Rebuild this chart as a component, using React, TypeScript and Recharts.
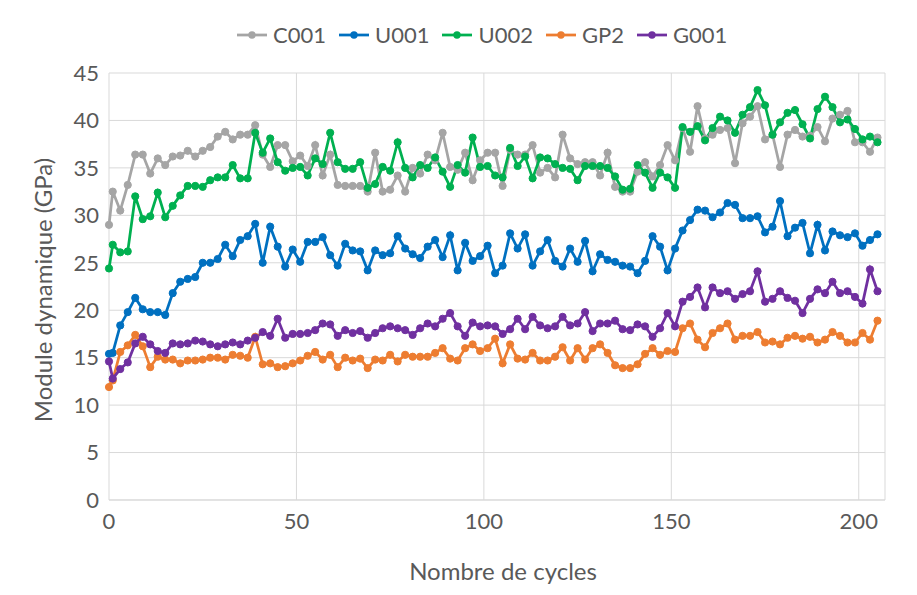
import React from "react";
import {
  CartesianGrid,
  Label,
  Line,
  LineChart,
  XAxis,
  YAxis,
} from "recharts";

// cycle numbers (x values)
const CYCLES = [
  0, 1, 3, 5, 7, 9, 11, 13,
  15, 17, 19, 21, 23, 25, 27, 29,
  31, 33, 35, 37, 39, 41, 43, 45,
  47, 49, 51, 53, 55, 57, 59, 61,
  63, 65, 67, 69, 71, 73, 75, 77,
  79, 81, 83, 85, 87, 89, 91, 93,
  95, 97, 99, 101, 103, 105, 107, 109,
  111, 113, 115, 117, 119, 121, 123, 125,
  127, 129, 131, 133, 135, 137, 139, 141,
  143, 145, 147, 149, 151, 153, 155, 157,
  159, 161, 163, 165, 167, 169, 171, 173,
  175, 177, 179, 181, 183, 185, 187, 189,
  191, 193, 195, 197, 199, 201, 203, 205,
];

const C001 = [
  29, 32.5, 30.5, 33.2, 36.4, 36.4, 34.4, 36,
  35.3, 36.2, 36.3, 36.8, 36.2, 36.8, 37.2, 38.3,
  38.8, 38, 38.5, 38.5, 39.5, 36.4, 35.1, 37.4,
  37.4, 35.7, 36.3, 35.2, 37.4, 34.2, 36.4, 33.2,
  33.1, 33.1, 33.1, 32.5, 36.6, 32.5, 32.7, 34.2,
  32.5, 35, 34.4, 36.4, 35.8, 38.7, 35.1, 34.8,
  36.6, 33.7, 35.8, 36.6, 36.6, 33.1, 36.9, 36.4,
  36.4, 37.4, 34.5, 35, 34, 38.5, 36, 35.4,
  35.6, 35.6, 34.2, 36.6, 33, 32.5, 32.5, 34.6,
  35.6, 34.1, 35.3, 37.4, 35.8, 39.2, 36.7, 41.5,
  38.1, 38.5, 39, 39.2, 35.5, 39.7, 40.4, 41.5,
  38, 38.5, 35.1, 38.5, 39, 38.3, 38.4, 39.3,
  37.8, 40.2, 40.6, 41, 37.7, 37.7, 36.7, 38.2,
];

const U001 = [
  15.4, 15.5, 18.4, 19.8, 21.3, 20.1, 19.8, 19.8,
  19.5, 21.8, 23, 23.3, 23.5, 25, 25, 25.4,
  26.9, 25.7, 27.4, 27.8, 29.1, 25, 28.8, 26.7,
  24.6, 26.4, 25.1, 27.2, 27.2, 27.7, 25.8, 24.7,
  27, 26.3, 26.2, 24.2, 26.3, 25.8, 26, 27.8,
  26.5, 25.9, 25.5, 26.7, 27.4, 25.6, 27.9, 24.2,
  27.1, 25.2, 25.7, 26.8, 23.9, 24.7, 28.1, 26.5,
  28, 24.7, 26.2, 27.4, 25.2, 24.6, 26.5, 25.1,
  27.3, 24.1, 25.9, 25.3, 25.1, 24.7, 24.6, 23.9,
  25.2, 27.8, 26.7, 24.2, 26.5, 28.4, 29.5, 30.6,
  30.5, 29.8, 30.3, 31.3, 31.1, 29.7, 29.7, 29.9,
  28.2, 28.8, 31.5, 27.8, 28.7, 29.2, 26, 29,
  26.3, 28.3, 27.9, 27.7, 28.1, 26.8, 27.4, 28,
];

const U002 = [
  24.4, 26.9, 26.1, 26.2, 32, 29.6, 29.9, 32.4,
  29.8, 31, 32.1, 33.1, 33.1, 33, 33.7, 34,
  34, 35.3, 33.9, 33.9, 38.7, 36.6, 38.1, 35.6,
  34.7, 35, 35.1, 34.2, 36, 35.4, 38.7, 35.6,
  34.9, 34.9, 35.6, 32.9, 33.3, 35.1, 34.7, 37.7,
  35, 34, 35.3, 35, 36.1, 34.6, 33, 35.3,
  34.5, 38.2, 35.1, 35.2, 34.2, 34, 37.1, 35.2,
  36.2, 33.9, 36.1, 36, 35.4, 35, 34.9, 33.7,
  35.2, 35.2, 35.2, 35, 34.1, 32.7, 32.8, 35.3,
  34.5, 32.9, 34.5, 34, 32.9, 39.3, 38.8, 39.4,
  37.9, 39.2, 40.4, 40, 38.7, 40.6, 41.4, 43.2,
  41.6, 38.5, 39.8, 40.8, 41.1, 39.6, 38.1, 41.2,
  42.5, 41.4, 39.8, 40.1, 39.1, 38, 38.3, 37.7,
];

const GP2 = [
  11.9, 12.6, 15.6, 16.3, 17.4, 16.2, 14, 15.1,
  14.8, 14.8, 14.4, 14.7, 14.7, 14.8, 15, 15,
  14.8, 15.3, 15.2, 15, 17.2, 14.3, 14.4, 14,
  14.1, 14.4, 14.7, 15.2, 15.6, 14.8, 15.3, 14,
  15, 14.7, 14.9, 13.9, 14.8, 14.7, 15.3, 14.6,
  15.3, 15.1, 15.1, 15.1, 15.5, 16, 14.9, 14.7,
  16, 16.4, 15.7, 16, 17, 14.4, 16.4, 14.9,
  14.8, 15.5, 14.7, 14.7, 15.1, 16.1, 14.7, 16,
  14.8, 16, 16.4, 15.5, 14.2, 13.9, 13.9, 14.3,
  15.4, 16, 15.3, 15.7, 15.6, 18.1, 18.6, 16.9,
  16.1, 17.6, 18.1, 18.6, 16.9, 17.3, 17.3, 17.7,
  16.6, 16.7, 16.4, 17.1, 17.3, 17, 17.2, 16.6,
  16.9, 17.7, 17.3, 16.6, 16.6, 17.6, 16.9, 18.9,
];

const G001 = [
  14.6, 12.8, 13.8, 14.5, 16.5, 17.2, 16.4, 15.7,
  15.5, 16.5, 16.4, 16.5, 16.8, 16.7, 16.4, 16.2,
  16.4, 16.6, 16.4, 16.8, 17.1, 17.7, 17.3, 19.1,
  17.1, 17.5, 17.5, 17.6, 17.9, 18.6, 18.5, 17.3,
  17.9, 17.6, 17.8, 17.1, 17.6, 18.1, 18.3, 18.1,
  17.9, 17.4, 18.1, 18.6, 18.3, 19.1, 19.7, 18.3,
  17.3, 18.7, 18.3, 18.4, 18.3, 17.5, 18, 19.1,
  18, 19.3, 18.4, 18.1, 18.3, 19.3, 18.4, 18.6,
  19.8, 17.8, 18.6, 18.6, 18.9, 18, 17.9, 18.5,
  18.3, 17.2, 18.1, 19.7, 18.3, 20.9, 21.4, 22.4,
  20.3, 22.4, 21.8, 22, 21.2, 21.7, 22, 24.1,
  20.9, 21.2, 22, 21.3, 21, 19.7, 21.2, 22.2,
  21.8, 23, 21.8, 22, 21.4, 20.7, 24.3, 22,
];

const X_TICKS = [0, 50, 100, 150, 200];
const Y_TICKS = [0, 5, 10, 15, 20, 25, 30, 35, 40, 45];

const SERIES = [
  { key: "C001", values: C001, color: "#a5a5a5" },
  { key: "U001", values: U001, color: "#0070c0" },
  { key: "U002", values: U002, color: "#00b050" },
  { key: "GP2", values: GP2, color: "#ed7d31" },
  { key: "G001", values: G001, color: "#7030a0" },
];

const data = CYCLES.map((c, i) => {
  const row: any = { cycle: c };
  SERIES.forEach((s) => (row[s.key] = s.values[i]));
  return row;
});

const FONT = "Lato, 'Open Sans', sans-serif";
const TEXT = "#595959";
const GRID = "#d9d9d9";

function LegendBar() {
  return (
    <div
      style={{
        position: "absolute",
        top: 21,
        left: 237,
        display: "flex",
        alignItems: "center",
        fontFamily: FONT,
        fontSize: 22,
        lineHeight: "28px",
        color: TEXT,
      }}
    >
      {SERIES.map((s) => (
        <div key={s.key} style={{ display: "flex", alignItems: "center", marginRight: 13 }}>
          <svg width={30} height={14} style={{ marginRight: 6 }}>
            <line x1={0} y1={7} x2={30} y2={7} stroke={s.color} strokeWidth={2.75} />
            <circle cx={15} cy={7} r={3.7} fill={s.color} />
          </svg>
          <span>{s.key}</span>
        </div>
      ))}
    </div>
  );
}

export default function App() {
  return (
    <div
      style={{
        position: "relative",
        width: 917,
        height: 595,
        margin: -8,
        background: "#fff",
      }}
    >
      <LegendBar />
      <LineChart
        width={917}
        height={595}
        data={data}
        margin={{ top: 73, right: 32, bottom: 0, left: 0 }}
        style={{ position: "absolute", left: 0, top: 0 }}
      >
        <CartesianGrid stroke={GRID} strokeWidth={1} />
        <XAxis
          dataKey="cycle"
          type="number"
          domain={[0, 207]}
          ticks={X_TICKS}
          height={95}
          tickSize={0}
          tickMargin={13}
          stroke={GRID}
          tick={{ fill: TEXT, fontSize: 22, fontFamily: FONT }}
        >
          <Label
            content={() => (
              <text
                x={503}
                y={570}
                textAnchor="middle"
                dominantBaseline="central"
                fill={TEXT}
                fontSize={24}
                fontFamily={FONT}
              >
                Nombre de cycles
              </text>
            )}
          />
        </XAxis>
        <YAxis
          type="number"
          domain={[0, 45]}
          ticks={Y_TICKS}
          width={109}
          axisLine={false}
          tickLine={false}
          tickSize={0}
          tickMargin={10}
          tick={{ fill: TEXT, fontSize: 22, fontFamily: FONT }}
        >
          <Label
            content={() => (
              <text
                x={42}
                y={290}
                transform="rotate(-90 42 290)"
                textAnchor="middle"
                dominantBaseline="central"
                fill={TEXT}
                fontSize={24}
                fontFamily={FONT}
              >
                Module dynamique (GPa)
              </text>
            )}
          />
        </YAxis>
        {SERIES.map((s) => (
          <Line
            key={s.key}
            dataKey={s.key}
            stroke={s.color}
            strokeWidth={2.75}
            dot={{ r: 3.6, fill: s.color, stroke: s.color, strokeWidth: 1 }}
            activeDot={false}
            isAnimationActive={false}
          />
        ))}
      </LineChart>
      <div
        style={{
          position: "absolute",
          left: 0,
          top: 0,
          width: 913,
          height: 591,
          borderRight: "1px solid #cfcfcf",
          borderBottom: "1px solid #cfcfcf",
          boxSizing: "border-box",
          pointerEvents: "none",
        }}
      />
    </div>
  );
}
